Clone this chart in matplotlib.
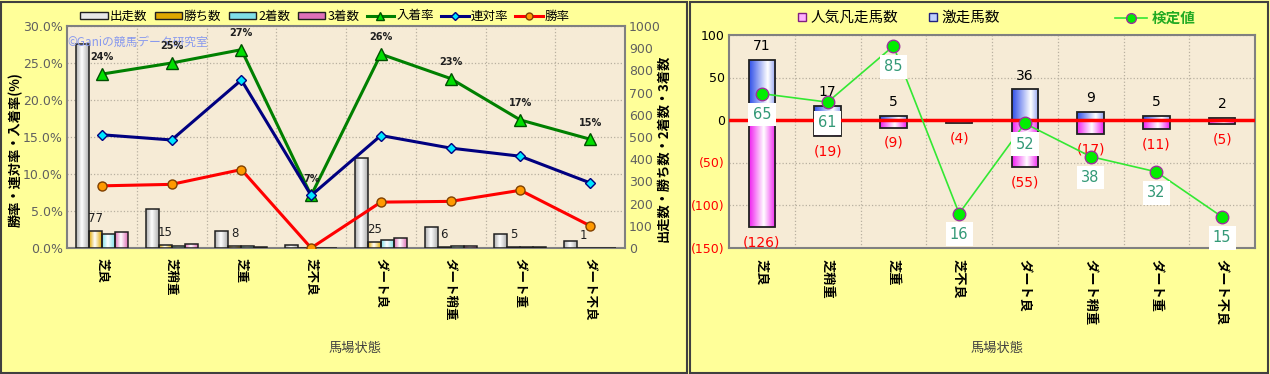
import matplotlib

matplotlib.use("Agg")

import matplotlib.pyplot as plt
import numpy as np
from matplotlib.colors import LinearSegmentedColormap
from matplotlib.lines import Line2D
from matplotlib.patches import Patch, Rectangle

plt.rcParams["font.family"] = ["Noto Sans CJK JP", "DejaVu Sans"]

# --- data ---------------------------------------------------------------
conditions = ["芝良", "芝稍重", "芝重", "芝不良", "ダート良", "ダート稍重", "ダート重", "ダート不良"]

starts = [917, 174, 75, 14, 407, 96, 64, 33]
wins = [77, 15, 8, 0, 25, 6, 5, 1]
seconds = [63, 10, 9, 1, 37, 7, 3, 2]
thirds = [72, 18, 3, 0, 44, 9, 3, 2]

place_rate = [23.5, 25.0, 26.8, 7.1, 26.2, 22.9, 17.3, 14.7]
quinella_rate = [15.3, 14.6, 22.7, 7.1, 15.2, 13.5, 12.4, 8.8]
win_rate = [8.4, 8.6, 10.6, 0.0, 6.2, 6.3, 7.8, 3.0]
place_rate_labels = ["24%", "25%", "27%", "7%", "26%", "23%", "17%", "15%"]

surge_count = [71, 17, 5, 0, 36, 9, 5, 2]
flop_count = [-126, -19, -9, -4, -55, -17, -11, -5]
test_value = [65, 61, 85, 16, 52, 38, 32, 15]
test_value_pos = [31, 21, 87, -110, -4, -43, -61, -114]

left_ticks = [0, 5, 10, 15, 20, 25, 30]
count_ticks = [0, 100, 200, 300, 400, 500, 600, 700, 800, 900, 1000]
right_ticks = [-150, -100, -50, 0, 50, 100]

PANEL_BG = "#FFFF99"
PLOT_BG = "#F6EBD6"
W, H = 1270, 374


def fig_rect(x0, y0, x1, y1):
    # pixel box (top-left origin) -> figure fraction
    return [x0 / W, 1 - y1 / H, (x1 - x0) / W, (y1 - y0) / H]


def gradient_fill(ax, bars, color, mid=0.55, edge_mix=None):
    stops = [(0, color), (mid, "white"), (1, edge_mix or color)]
    cmap = LinearSegmentedColormap.from_list("g", stops)
    grad = np.linspace(0, 1, 64).reshape(1, -1)
    for b in bars:
        h = b.get_height()
        if h == 0:
            continue
        x, y = b.get_xy()
        im = ax.imshow(grad, extent=(x, x + b.get_width(), y, y + h), aspect="auto",
                       cmap=cmap, origin="lower", zorder=b.get_zorder() - 0.05,
                       interpolation="bilinear")
        im.set_clip_path(b)


fig = plt.figure(figsize=(12.7, 3.74), dpi=100)
fig.patch.set_facecolor(PANEL_BG)
for x0, x1 in [(1, 687), (690, 1268)]:
    fig.patches.append(Rectangle((x0 / W, 1.5 / H), (x1 - x0) / W, (H - 3) / H,
                                 transform=fig.transFigure, fill=False,
                                 edgecolor="#404040", linewidth=1.5))

x = np.arange(len(conditions))

# --- left panel ---------------------------------------------------------
ax = fig.add_axes(fig_rect(67, 26, 625, 248))
ax.set_facecolor(PLOT_BG)
ax.set_ylim(0, 30)
ax.set_xlim(-0.5, len(conditions) - 0.5)
ax.set_yticks(left_ticks)
ax.set_yticklabels([f"{v:.1f}%" for v in left_ticks], color="#606060", fontsize=9,
                   family="DejaVu Sans")
ax.set_xticks(x)
ax.set_xticklabels(conditions, rotation=270, fontsize=9, fontweight="bold", va="top")
ax.tick_params(axis="x", length=0, pad=7)
ax.tick_params(axis="y", length=0, pad=3)
for xb in np.arange(0.5, len(conditions) - 0.5, 1):
    ax.axvline(xb, color="#B8B0A0", linestyle=":", linewidth=0.9, zorder=0)
ax.yaxis.grid(True, color="#B8B0A0", linestyle=":", linewidth=0.9)
ax.set_axisbelow(True)
for s in ax.spines.values():
    s.set_color("#808080")
    s.set_linewidth(1.5)

axb = ax.twinx()
axb.set_ylim(0, 1000)
axb.set_yticks(count_ticks)
axb.set_yticklabels([str(v) for v in count_ticks], color="#606060", fontsize=9,
                    family="DejaVu Sans")
axb.tick_params(axis="y", length=0, pad=3)
for s in axb.spines.values():
    s.set_visible(False)

bw = 0.186
series = [(starts, "#B0B0B0"), (wins, "#E0A800"), (seconds, "#80E0E8"), (thirds, "#E070B8")]
for i, (vals, col) in enumerate(series):
    bars = axb.bar(x + (i - 1.5) * bw, vals, bw, facecolor="none", edgecolor="#202020",
                   linewidth=1.1, zorder=3)
    gradient_fill(axb, bars, col, mid=0.45)
axb.set_xlim(-0.5, len(conditions) - 0.5)
for xi, w in zip(x, wins):
    if w > 0:
        axb.annotate(str(w), (xi - 0.5 * bw, w), xytext=(0, 9), textcoords="offset points",
                     ha="center", va="center", fontsize=8.5, color="#202020",
                     family="DejaVu Sans")

axl = ax.twinx()
axl.set_ylim(0, 30)
axl.set_xlim(-0.5, len(conditions) - 0.5)
axl.set_yticks([])
for s in axl.spines.values():
    s.set_visible(False)
axl.text(0.0, 0.925, "©Ganiの競馬データ研究室", transform=axl.transAxes, fontsize=8.5,
         color="#8899EE", va="center", ha="left", zorder=1)
axl.plot(x, place_rate, color="#008000", linewidth=2.2, marker="^", markersize=8,
         markerfacecolor="#00E000", markeredgecolor="#005000", label="入着率", zorder=5)
axl.plot(x, quinella_rate, color="#000080", linewidth=2.2, marker="D", markersize=5,
         markerfacecolor="#00E5FF", markeredgecolor="#000080", label="連対率", zorder=5)
axl.plot(x, win_rate, color="#FF0000", linewidth=2.2, marker="o", markersize=6.5,
         markerfacecolor="#FF9900", markeredgecolor="#804000", label="勝率", zorder=5)
for xi, v, lab in zip(x, place_rate, place_rate_labels):
    axl.annotate(lab, (xi, v), xytext=(0, 12), textcoords="offset points", ha="center",
                 va="center", fontsize=7, fontweight="bold", color="#202020",
                 family="DejaVu Sans", zorder=6)

fig.text(16 / W, 1 - 150 / H, "勝率・連対率・入着率(%)", rotation=90, ha="center",
         va="center", fontsize=9.5, fontweight="bold")
fig.text(663 / W, 1 - 148 / H, "出走数・勝ち数・2着数・3着数", rotation=90, ha="center",
         va="center", fontsize=9.5, fontweight="bold")
fig.text(355 / W, 1 - 348 / H, "馬場状態", ha="center", va="center", fontsize=9.5,
         color="#404040")

left_handles = [Patch(facecolor=c, edgecolor="#202020") for _, c in series]
left_handles[0] = Patch(facecolor="#E8E8E8", edgecolor="#202020")
left_handles += [
    Line2D([], [], color="#008000", lw=2.2, marker="^", markersize=6,
           markerfacecolor="#00E000", markeredgecolor="#005000"),
    Line2D([], [], color="#000080", lw=2.2, marker="D", markersize=4,
           markerfacecolor="#00E5FF", markeredgecolor="#000080"),
    Line2D([], [], color="#FF0000", lw=2.2, marker="o", markersize=5,
           markerfacecolor="#FF9900", markeredgecolor="#804000"),
]
fig.legend(left_handles, ["出走数", "勝ち数", "2着数", "3着数", "入着率", "連対率", "勝率"],
           loc="center", bbox_to_anchor=(325 / W, 1 - 16 / H), ncol=7, frameon=False,
           fontsize=9, handlelength=2.2, handleheight=0.5, columnspacing=0.6,
           handletextpad=0.15)

# --- right panel --------------------------------------------------------
ar = fig.add_axes(fig_rect(729, 35, 1255, 247.5))
ar.set_facecolor(PLOT_BG)
ar.set_ylim(-150, 100)
ar.set_xlim(-0.5, len(conditions) - 0.5)
ar.set_yticks(right_ticks)
ar.set_yticklabels([str(v) if v >= 0 else f"({-v})" for v in right_ticks], fontsize=9,
                   family="DejaVu Sans")
for lab, v in zip(ar.get_yticklabels(), right_ticks):
    lab.set_color("black" if v >= 0 else "#FF0000")
ar.set_xticks(x)
ar.set_xticklabels(conditions, rotation=270, fontsize=9.5, fontweight="bold", va="top")
ar.tick_params(axis="x", length=0, pad=8)
ar.tick_params(axis="y", length=0, pad=3)
for xb in np.arange(0.5, len(conditions) - 0.5, 1):
    ar.axvline(xb, color="#B8B0A0", linestyle=":", linewidth=0.9, zorder=0)
ar.yaxis.grid(True, color="#B8B0A0", linestyle=":", linewidth=0.9)
ar.set_axisbelow(True)
for s in ar.spines.values():
    s.set_color("#808080")
    s.set_linewidth(1.5)

rbw = 0.4
up = ar.bar(x, surge_count, rbw, facecolor="none", edgecolor="#202020", linewidth=1.3,
            zorder=3)
gradient_fill(ar, up, "#3050E8", mid=0.7, edge_mix="#90A0F0")
down = ar.bar(x, flop_count, rbw, facecolor="none", edgecolor="#202020", linewidth=1.3,
              zorder=3)
gradient_fill(ar, down, "#F020F0", mid=0.55)
ar.axhline(0, color="#FF0000", linewidth=2.5, zorder=4)
ar.set_xlim(-0.5, len(conditions) - 0.5)
ar.set_ylim(-150, 100)

for xi, v in zip(x, surge_count):
    if v > 0:
        ar.annotate(str(v), (xi, v), xytext=(0, 10), textcoords="offset points",
                    ha="center", va="center", fontsize=10, family="DejaVu Sans")
for xi, v in zip(x, flop_count):
    ar.annotate(f"({-v})", (xi, v), xytext=(0, -11), textcoords="offset points",
                ha="center", va="center", fontsize=10, color="#FF0000",
                family="DejaVu Sans")

ar.plot(x, test_value_pos, color="#33E833", linewidth=1.2, marker="o", markersize=9,
        markerfacecolor="#00EE00", markeredgecolor="#993399", zorder=6)
for xi, p, v in zip(x, test_value_pos, test_value):
    ar.annotate(str(v), (xi, p), xytext=(0, -15), textcoords="offset points",
                ha="center", va="center", fontsize=10.5, color="#339977",
                family="DejaVu Sans", zorder=7,
                bbox=dict(boxstyle="square,pad=0.3", facecolor="white", edgecolor="none"))

fig.text(997 / W, 1 - 348 / H, "馬場状態", ha="center", va="center", fontsize=9.5,
         color="#404040")

sq_handles = [
    Line2D([], [], linestyle="none", marker="s", markersize=6, markerfacecolor="#FFB0FF",
           markeredgecolor="#802080"),
    Line2D([], [], linestyle="none", marker="s", markersize=6, markerfacecolor="#C0D0FF",
           markeredgecolor="#202080"),
]
fig.legend(sq_handles, ["人気凡走馬数", "激走馬数"], loc="center",
           bbox_to_anchor=(898 / W, 1 - 18 / H), ncol=2, frameon=False, fontsize=10.5,
           handlelength=0.8, handletextpad=0.2, columnspacing=2.0)
leg = fig.legend([Line2D([], [], color="#33E833", lw=1.2, marker="o", markersize=7,
                         markerfacecolor="#00EE00", markeredgecolor="#993399")],
                 ["検定値"], loc="center", bbox_to_anchor=(1155 / W, 1 - 18 / H),
                 frameon=False, fontsize=10.5, handlelength=2.2, handletextpad=0.3)
for t in leg.get_texts():
    t.set_color("#22AA22")
    t.set_fontweight("bold")

fig.savefig("out.png", dpi=100, facecolor=PANEL_BG)
